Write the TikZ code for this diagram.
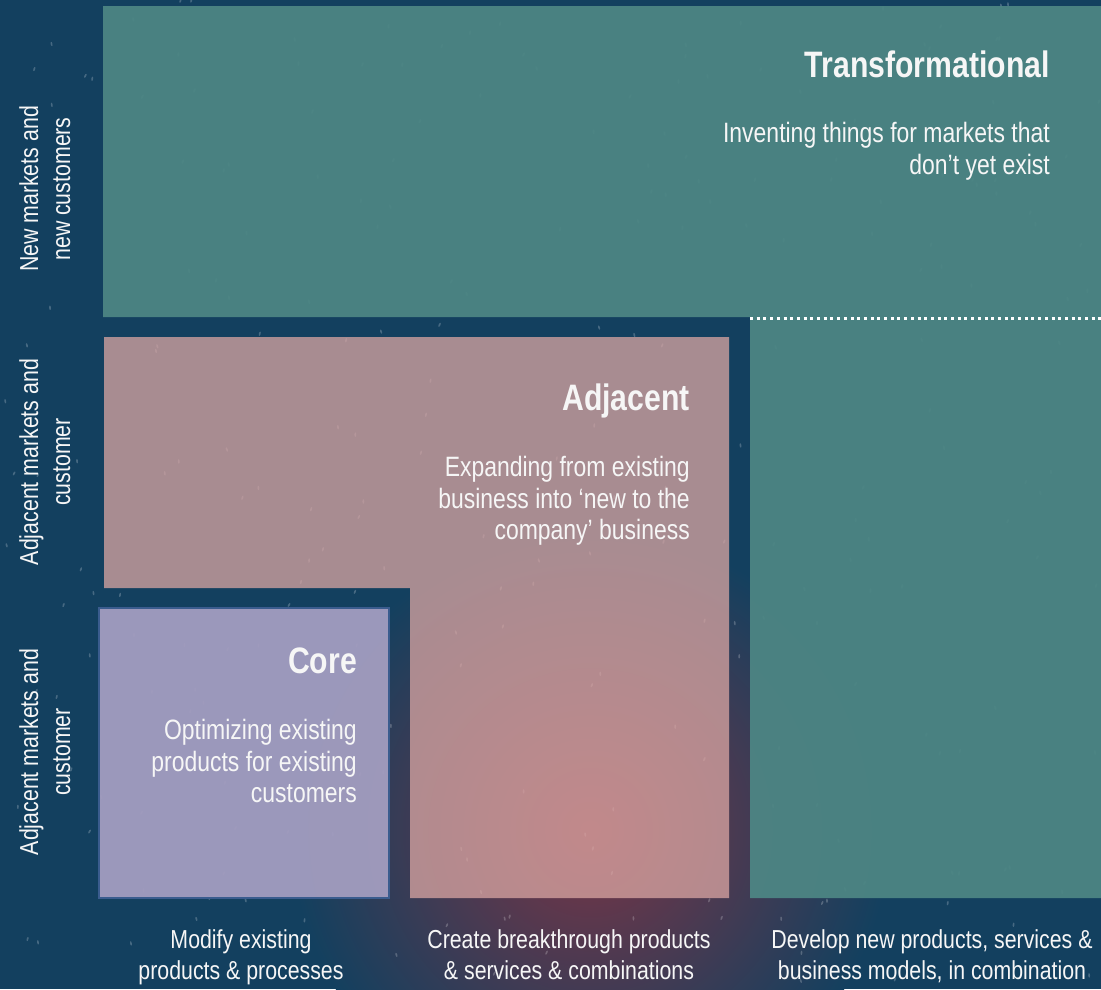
\documentclass[tikz,border=0pt]{standalone}
\usepackage{fontspec}
\setmainfont[FakeStretch=0.82]{Liberation Sans}
\definecolor{navy}{HTML}{13405F}
\definecolor{glow}{HTML}{7A3445}
\definecolor{teal}{HTML}{4D8684}
\definecolor{rose}{HTML}{DAA6A3}
\definecolor{lavender}{HTML}{A39DC0}
\definecolor{coreedge}{HTML}{3A5C8E}
\definecolor{ink}{HTML}{F6F6F6}
\begin{document}
\begin{tikzpicture}[x=1pt,y=-1pt,
  title/.style={anchor=base east,inner sep=0pt,text=ink,font=\bfseries\fontsize{36.8}{40}\selectfont},
  desc/.style={anchor=north east,inner sep=0pt,align=right,text=ink,font=\fontsize{28}{31.5}\selectfont},
  sidelabel/.style={rotate=90,anchor=center,inner sep=0pt,align=center,text=ink,font=\fontsize{26}{32}\selectfont},
  baselabel/.style={anchor=north,inner sep=0pt,align=center,text=ink,font=\fontsize{26}{31}\selectfont},
  speck/.style={white,opacity=0.22}]

% canvas
\fill[navy] (0,0) rectangle (1101,989);
\useasboundingbox (0,0) rectangle (1101,989);
% warm haze in the lower middle
\shade[inner color=glow,outer color=navy] (590,830) circle (300pt);
% fine dust over the backdrop
\pgfmathsetseed{4242}
\foreach \k in {1,...,260}{
  \pgfmathsetmacro{\px}{rnd*1101}
  \pgfmathsetmacro{\py}{rnd*989}
  \pgfmathsetmacro{\pa}{60+rnd*50}
  \fill[speck,rotate around={\pa:(\px,\py)}] (\px,\py) ellipse (2.2pt and 0.9pt);
}

% transformational zone (L-shape)
\fill[teal,fill opacity=0.94] (103,6) -- (1101,6) -- (1101,898) -- (750,898) -- (750,317) -- (103,317) -- cycle;
\draw[white,line width=3pt,dash pattern=on 3pt off 3.7pt] (750,318) -- (1101,318);

% adjacent zone (L-shape)
\fill[rose,fill opacity=0.75] (104,337) -- (729,337) -- (729,898) -- (410,898) -- (410,588) -- (104,588) -- cycle;

% core zone
\filldraw[fill=lavender,fill opacity=0.95,draw=coreedge,line width=2pt] (99,608) rectangle (389,898);

% zone titles and descriptions
\node[title] (ttrans) at (1050,77) {Transformational};
\node[desc] (dtrans) at (1050,120.6) {\strut Inventing things for markets that\\don’t yet exist};
\node[title] (tadj) at (690,410) {Adjacent};
\node[desc] (dadj) at (690,454.6) {\strut Expanding from existing\\business into ‘new to the\\company’ business};
\node[title] (tcore) at (357,673) {Core};
\node[desc] (dcore) at (357,717.6) {\strut Optimizing existing\\products for existing\\customers};

% vertical axis labels
\node[sidelabel] (yone) at (47.6,189) {\strut New markets and\\\strut new customers};
\node[sidelabel] (ytwo) at (47.6,462) {\strut Adjacent markets and\\\strut customer};
\node[sidelabel] (ythree) at (47.6,752) {\strut Adjacent markets and\\\strut customer};

% horizontal axis labels
\node[baselabel] (xone) at (241,926.3) {\strut Modify existing\\products \& processes};
\node[baselabel] (xtwo) at (569,926.3) {\strut Create breakthrough products\\\& services \& combinations};
\node[baselabel] (xthree) at (932,926.3) {\strut Develop new products, services \&\\business models, in combination};
\end{tikzpicture}
\end{document}
